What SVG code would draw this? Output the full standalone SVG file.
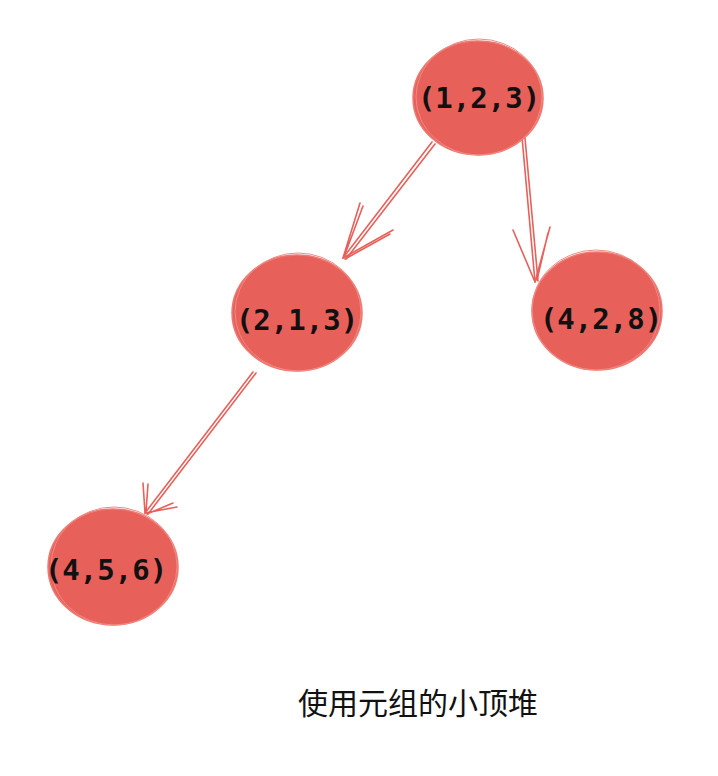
<svg xmlns="http://www.w3.org/2000/svg" width="718" height="776" viewBox="0 0 718 776">
<style>
.node{fill:#e8605a;stroke:#ec7a72;stroke-width:1.5}
.sk{fill:none;stroke:#f08a83;stroke-width:1}
.lbl{font-family:"DejaVu Sans Mono","Liberation Mono",monospace;font-weight:bold;font-size:29px;fill:#111;text-anchor:middle}
.edge{fill:none;stroke:#e8605a;stroke-width:1.6;stroke-linecap:round}
.cap{font-family:"Noto Sans CJK SC",sans-serif;font-size:30px;fill:#111;text-anchor:middle}
</style>
<rect width="718" height="776" fill="#fff"/>
<g id="edges">
<path class="edge" d="M432,142 L343,258 M435,144 L346,259"/>
<path class="edge" d="M343,258 L360,203 M344,257 L363,206 M343,258 L393,230 M345,259 L390,234"/>
<path class="edge" d="M522,137 L535,282 M525,138 L538,281"/>
<path class="edge" d="M535,282 L513,230 M535,282 L550,227 M537,280 L548,233"/>
<path class="edge" d="M253,372 L145,513 M256,373 L148,514"/>
<path class="edge" d="M145,513 L143,483 M146,512 L148,484 M145,513 L177,507 M147,514 L173,503"/>
</g>
<g id="n123">
<ellipse class="node" cx="478" cy="98" rx="65" ry="57"/>
<ellipse class="sk" cx="479" cy="97" rx="63" ry="58"/>
<text class="lbl" x="479" y="108">(1,2,3)</text>
</g>
<g id="n213">
<ellipse class="node" cx="297" cy="313" rx="65" ry="58"/>
<ellipse class="sk" cx="298" cy="312" rx="63" ry="59"/>
<text class="lbl" x="297" y="330">(2,1,3)</text>
</g>
<g id="n428">
<ellipse class="node" cx="597" cy="311" rx="65" ry="59"/>
<ellipse class="sk" cx="596" cy="310" rx="64" ry="60"/>
<text class="lbl" x="601" y="329">(4,2,8)</text>
</g>
<g id="n456">
<ellipse class="node" cx="113" cy="567" rx="65" ry="58"/>
<ellipse class="sk" cx="114" cy="566" rx="63" ry="59"/>
<text class="lbl" x="106" y="580">(4,5,6)</text>
</g>
<text class="cap" x="418" y="714">使用元组的小顶堆</text>
</svg>
